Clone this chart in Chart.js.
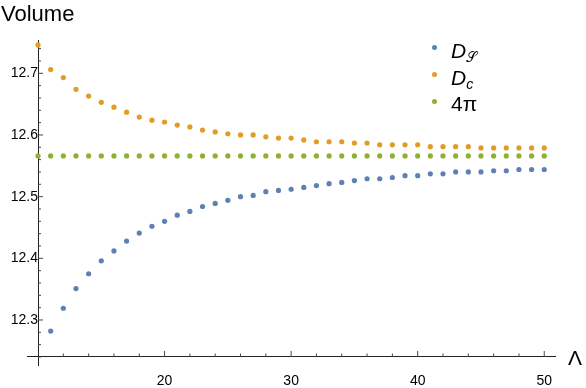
<!DOCTYPE html>
<html>
<head>
<meta charset="utf-8">
<script src="https://cdn.jsdelivr.net/npm/chart.js@4/dist/chart.umd.min.js"></script>
<style>
  html, body { margin: 0; padding: 0; background: #fff; }
  #wrap { position: relative; width: 586px; height: 388px; font-family: "Liberation Sans", Arial, sans-serif; color: #000; }
  canvas { position: absolute; left: 0; top: 0; }
  .lbl { position: absolute; white-space: nowrap; line-height: 1; }
  .dot { position: absolute; width: 5px; height: 5px; border-radius: 50%; }
  .leg { position: absolute; white-space: nowrap; font-size: 21px; line-height: 1; }
  .leg i { font-style: italic; }
  .leg sub { font-size: 14px; vertical-align: baseline; position: relative; top: 4px; }
</style>
</head>
<body>
<div id="wrap">
  <canvas id="c" width="586" height="388"></canvas>
  <div class="lbl" style="left:1px; top:3px; font-size:22px;">Volume</div>
  <div class="lbl" style="left:568px; top:347px; font-size:21px;">Λ</div>
  <div class="dot" style="left:432px; top:45px; background:#5E81B5;"></div>
  <div class="leg" style="left:451px; top:40px;"><i>D</i><sub style="font-family:'DejaVu Sans','Noto Sans',serif;font-style:normal;">𝒮</sub></div>
  <div class="dot" style="left:432px; top:72px; background:#E19C24;"></div>
  <div class="leg" style="left:451px; top:67px;"><i>D</i><sub><i>c</i></sub></div>
  <div class="dot" style="left:432px; top:99px; background:#8FB032;"></div>
  <div class="leg" style="left:451px; top:93px;">4π</div>
</div>
<script>
// ---- data ----
const lambda = [10,11,12,13,14,15,16,17,18,19,20,21,22,23,24,25,26,27,28,29,30,
                31,32,33,34,35,36,37,38,39,40,41,42,43,44,45,46,47,48,49,50];
const dS = [null,12.282,12.319,12.351,12.375,12.396,12.412,12.428,12.441,12.452,12.460,
            12.470,12.476,12.484,12.489,12.494,12.500,12.502,12.508,12.510,12.512,
            12.515,12.518,12.521,12.523,12.526,12.529,12.529,12.531,12.534,12.534,
            12.537,12.537,12.540,12.540,12.540,12.542,12.542,12.544,12.544,12.544];
const dC = [12.746,12.706,12.693,12.674,12.663,12.653,12.645,12.637,12.629,12.624,12.621,
            12.616,12.613,12.608,12.605,12.602,12.600,12.600,12.597,12.595,12.595,
            12.592,12.589,12.589,12.589,12.587,12.587,12.584,12.584,12.584,12.584,
            12.581,12.581,12.581,12.581,12.579,12.579,12.579,12.579,12.579,12.579];
const fourPi = [12.566,12.566,12.566,12.566,12.566,12.566,12.566,12.566,12.566,12.566,12.566,
                12.566,12.566,12.566,12.566,12.566,12.566,12.566,12.566,12.566,12.566,
                12.566,12.566,12.566,12.566,12.566,12.566,12.566,12.566,12.566,12.566,
                12.566,12.566,12.566,12.566,12.566,12.566,12.566,12.566,12.566,12.566];
const xMajorTicks = [20, 30, 40, 50];
const yMajorTicks = [12.3, 12.4, 12.5, 12.6, 12.7];

const toPts = arr => lambda.map((x, i) => ({x: x, y: arr[i]}));

const isMajor = (v, list) => list.some(m => Math.abs(m - v) < 1e-6);

const tickPlugin = {
  id: 'innerTicks',
  afterDraw(chart) {
    const ctx = chart.ctx, xs = chart.scales.x, ys = chart.scales.y;
    const ax = xs.getPixelForValue(10);
    const ay = ys.getPixelForValue(12.24);
    ctx.save();
    ctx.strokeStyle = '#444';
    ctx.lineWidth = 1;
    ctx.beginPath();
    ys.ticks.forEach(t => {
      const p = ys.getPixelForValue(t.value);
      const len = isMajor(t.value, yMajorTicks) ? 5 : 3;
      ctx.moveTo(ax, p); ctx.lineTo(ax + len, p);
    });
    xs.ticks.forEach(t => {
      if (t.value <= 10) return;
      const p = xs.getPixelForValue(t.value);
      const len = isMajor(t.value, xMajorTicks) ? 6 : 3.5;
      ctx.moveTo(p, ay); ctx.lineTo(p, ay - len);
    });
    ctx.stroke();
    ctx.restore();
  }
};

const mk = (data, color) => ({
  data: data, showLine: false, pointRadius: 2.6, pointHoverRadius: 2.6,
  pointBackgroundColor: color, pointBorderWidth: 0, borderColor: color, backgroundColor: color
});

new Chart(document.getElementById('c'), {
  type: 'scatter',
  data: {
    datasets: [
      mk(toPts(dS), '#5E81B5'),
      mk(toPts(dC), '#E19C24'),
      mk(toPts(fourPi), '#8FB032')
    ]
  },
  options: {
    responsive: false,
    animation: false,
    devicePixelRatio: 1,
    layout: { padding: { left: 27, right: 31, top: 40, bottom: 23 } },
    plugins: { legend: { display: false }, tooltip: { enabled: false } },
    scales: {
      x: {
        type: 'linear',
        position: { y: 12.24 },
        min: 9.13, max: 50.85,
        grid: { display: false },
        border: { display: true, color: '#222', width: 1 },
        ticks: {
          stepSize: 2, includeBounds: false, autoSkip: false, maxRotation: 0,
          padding: 8, color: '#000',
          font: { family: 'Liberation Sans', size: 14 },
          callback: v => isMajor(v, xMajorTicks) ? String(v) : ''
        }
      },
      y: {
        type: 'linear',
        position: { x: 10 },
        min: 12.227, max: 12.754,
        grid: { display: false },
        border: { display: true, color: '#222', width: 1 },
        ticks: {
          stepSize: 0.02, includeBounds: false, autoSkip: false,
          padding: 6, color: '#000',
          font: { family: 'Liberation Sans', size: 14 },
          callback: v => isMajor(v, yMajorTicks) ? v.toFixed(1) : ''
        }
      }
    }
  },
  plugins: [tickPlugin]
});
</script>
</body>
</html>
